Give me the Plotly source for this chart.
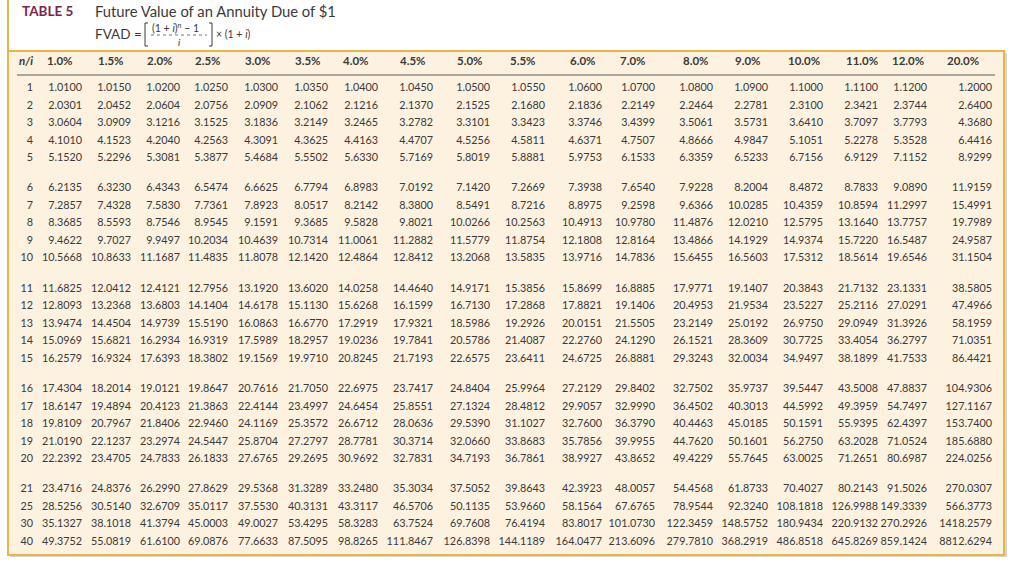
import plotly.graph_objects as go

# ---------------- data ----------------
n_periods = [1, 2, 3, 4, 5, 6, 7, 8, 9, 10, 11, 12, 13, 14, 15, 16, 17, 18, 19, 20, 21, 25, 30, 40]
rate_labels = ["1.0%", "1.5%", "2.0%", "2.5%", "3.0%", "3.5%", "4.0%", "4.5%", "5.0%",
               "5.5%", "6.0%", "7.0%", "8.0%", "9.0%", "10.0%", "11.0%", "12.0%", "20.0%"]

fvad_1_0 = [1.0100, 2.0301, 3.0604, 4.1010, 5.1520, 6.2135, 7.2857, 8.3685, 9.4622, 10.5668, 11.6825, 12.8093, 13.9474, 15.0969, 16.2579, 17.4304, 18.6147, 19.8109, 21.0190, 22.2392, 23.4716, 28.5256, 35.1327, 49.3752]
fvad_1_5 = [1.0150, 2.0452, 3.0909, 4.1523, 5.2296, 6.3230, 7.4328, 8.5593, 9.7027, 10.8633, 12.0412, 13.2368, 14.4504, 15.6821, 16.9324, 18.2014, 19.4894, 20.7967, 22.1237, 23.4705, 24.8376, 30.5140, 38.1018, 55.0819]
fvad_2_0 = [1.0200, 2.0604, 3.1216, 4.2040, 5.3081, 6.4343, 7.5830, 8.7546, 9.9497, 11.1687, 12.4121, 13.6803, 14.9739, 16.2934, 17.6393, 19.0121, 20.4123, 21.8406, 23.2974, 24.7833, 26.2990, 32.6709, 41.3794, 61.6100]
fvad_2_5 = [1.0250, 2.0756, 3.1525, 4.2563, 5.3877, 6.5474, 7.7361, 8.9545, 10.2034, 11.4835, 12.7956, 14.1404, 15.5190, 16.9319, 18.3802, 19.8647, 21.3863, 22.9460, 24.5447, 26.1833, 27.8629, 35.0117, 45.0003, 69.0876]
fvad_3_0 = [1.0300, 2.0909, 3.1836, 4.3091, 5.4684, 6.6625, 7.8923, 9.1591, 10.4639, 11.8078, 13.1920, 14.6178, 16.0863, 17.5989, 19.1569, 20.7616, 22.4144, 24.1169, 25.8704, 27.6765, 29.5368, 37.5530, 49.0027, 77.6633]
fvad_3_5 = [1.0350, 2.1062, 3.2149, 4.3625, 5.5502, 6.7794, 8.0517, 9.3685, 10.7314, 12.1420, 13.6020, 15.1130, 16.6770, 18.2957, 19.9710, 21.7050, 23.4997, 25.3572, 27.2797, 29.2695, 31.3289, 40.3131, 53.4295, 87.5095]
fvad_4_0 = [1.0400, 2.1216, 3.2465, 4.4163, 5.6330, 6.8983, 8.2142, 9.5828, 11.0061, 12.4864, 14.0258, 15.6268, 17.2919, 19.0236, 20.8245, 22.6975, 24.6454, 26.6712, 28.7781, 30.9692, 33.2480, 43.3117, 58.3283, 98.8265]
fvad_4_5 = [1.0450, 2.1370, 3.2782, 4.4707, 5.7169, 7.0192, 8.3800, 9.8021, 11.2882, 12.8412, 14.4640, 16.1599, 17.9321, 19.7841, 21.7193, 23.7417, 25.8551, 28.0636, 30.3714, 32.7831, 35.3034, 46.5706, 63.7524, 111.8467]
fvad_5_0 = [1.0500, 2.1525, 3.3101, 4.5256, 5.8019, 7.1420, 8.5491, 10.0266, 11.5779, 13.2068, 14.9171, 16.7130, 18.5986, 20.5786, 22.6575, 24.8404, 27.1324, 29.5390, 32.0660, 34.7193, 37.5052, 50.1135, 69.7608, 126.8398]
fvad_5_5 = [1.0550, 2.1680, 3.3423, 4.5811, 5.8881, 7.2669, 8.7216, 10.2563, 11.8754, 13.5835, 15.3856, 17.2868, 19.2926, 21.4087, 23.6411, 25.9964, 28.4812, 31.1027, 33.8683, 36.7861, 39.8643, 53.9660, 76.4194, 144.1189]
fvad_6_0 = [1.0600, 2.1836, 3.3746, 4.6371, 5.9753, 7.3938, 8.8975, 10.4913, 12.1808, 13.9716, 15.8699, 17.8821, 20.0151, 22.2760, 24.6725, 27.2129, 29.9057, 32.7600, 35.7856, 38.9927, 42.3923, 58.1564, 83.8017, 164.0477]
fvad_7_0 = [1.0700, 2.2149, 3.4399, 4.7507, 6.1533, 7.6540, 9.2598, 10.9780, 12.8164, 14.7836, 16.8885, 19.1406, 21.5505, 24.1290, 26.8881, 29.8402, 32.9990, 36.3790, 39.9955, 43.8652, 48.0057, 67.6765, 101.0730, 213.6096]
fvad_8_0 = [1.0800, 2.2464, 3.5061, 4.8666, 6.3359, 7.9228, 9.6366, 11.4876, 13.4866, 15.6455, 17.9771, 20.4953, 23.2149, 26.1521, 29.3243, 32.7502, 36.4502, 40.4463, 44.7620, 49.4229, 54.4568, 78.9544, 122.3459, 279.7810]
fvad_9_0 = [1.0900, 2.2781, 3.5731, 4.9847, 6.5233, 8.2004, 10.0285, 12.0210, 14.1929, 16.5603, 19.1407, 21.9534, 25.0192, 28.3609, 32.0034, 35.9737, 40.3013, 45.0185, 50.1601, 55.7645, 61.8733, 92.3240, 148.5752, 368.2919]
fvad_10_0 = [1.1000, 2.3100, 3.6410, 5.1051, 6.7156, 8.4872, 10.4359, 12.5795, 14.9374, 17.5312, 20.3843, 23.5227, 26.9750, 30.7725, 34.9497, 39.5447, 44.5992, 50.1591, 56.2750, 63.0025, 70.4027, 108.1818, 180.9434, 486.8518]
fvad_11_0 = [1.1100, 2.3421, 3.7097, 5.2278, 6.9129, 8.7833, 10.8594, 13.1640, 15.7220, 18.5614, 21.7132, 25.2116, 29.0949, 33.4054, 38.1899, 43.5008, 49.3959, 55.9395, 63.2028, 71.2651, 80.2143, 126.9988, 220.9132, 645.8269]
fvad_12_0 = [1.1200, 2.3744, 3.7793, 5.3528, 7.1152, 9.0890, 11.2997, 13.7757, 16.5487, 19.6546, 23.1331, 27.0291, 31.3926, 36.2797, 41.7533, 47.8837, 54.7497, 62.4397, 71.0524, 80.6987, 91.5026, 149.3339, 270.2926, 859.1424]
fvad_20_0 = [1.2000, 2.6400, 4.3680, 6.4416, 8.9299, 11.9159, 15.4991, 19.7989, 24.9587, 31.1504, 38.5805, 47.4966, 58.1959, 71.0351, 86.4421, 104.9306, 127.1167, 153.7400, 185.6880, 224.0256, 270.0307, 566.3773, 1418.2579, 8812.6294]

columns = [fvad_1_0, fvad_1_5, fvad_2_0, fvad_2_5, fvad_3_0, fvad_3_5, fvad_4_0, fvad_4_5, fvad_5_0,
           fvad_5_5, fvad_6_0, fvad_7_0, fvad_8_0, fvad_9_0, fvad_10_0, fvad_11_0, fvad_12_0, fvad_20_0]

# ---------------- layout (pixel coordinates) ----------------
W, H = 1024, 583
col_right = [82, 131, 180, 228, 278, 328, 378, 433, 490, 545, 602, 655, 713, 768, 823, 878, 927, 992]
header_left = [47, 98, 147, 195, 245, 295, 343, 400, 457, 510, 570, 620, 683, 735, 788, 846, 892, 947]
n_right = 33
header_y = 62
group_top, row_step, group_step = 88.5, 17.5, 100.3

def row_y(i):
    return group_top + (i // 5) * group_step + (i % 5) * row_step

ys = [row_y(i) for i in range(len(n_periods))]

TXT = "#3a3a3a"
FONT = "Lato"
FS = 10.8
CREAM = "#FDF1DF"
GOLD = "#E6B54C"

fig = go.Figure()

# n column
fig.add_trace(go.Scatter(
    x=[n_right] * len(n_periods), y=ys, mode="text",
    text=[str(n) for n in n_periods], textposition="middle left",
    textfont=dict(family=FONT, size=FS, color=TXT),
    hoverinfo="skip", showlegend=False, cliponaxis=False))

# value columns
for j, vals in enumerate(columns):
    fig.add_trace(go.Scatter(
        x=[col_right[j]] * len(vals), y=ys, mode="text",
        text=[f"{v:.4f}" for v in vals], textposition="middle left",
        textfont=dict(family=FONT, size=FS, color=TXT),
        hoverinfo="skip", showlegend=False, cliponaxis=False))

# headers
fig.add_trace(go.Scatter(
    x=header_left, y=[header_y] * len(rate_labels), mode="text",
    text=[f"<b>{r}</b>" for r in rate_labels], textposition="middle right",
    textfont=dict(family=FONT, size=11.5, color=TXT),
    hoverinfo="skip", showlegend=False, cliponaxis=False))
fig.add_trace(go.Scatter(
    x=[19], y=[header_y], mode="text",
    text=["<b><i>n/i</i></b>"], textposition="middle right",
    textfont=dict(family=FONT, size=11.5, color=TXT),
    hoverinfo="skip", showlegend=False, cliponaxis=False))

shapes = [
    # shadow
    dict(type="rect", x0=10, x1=1007, y0=53, y1=557, line=dict(width=0), fillcolor="#d9d4cc", layer="below"),
    # cream panel
    dict(type="rect", x0=8, x1=1004, y0=51, y1=555, line=dict(color=GOLD, width=2), fillcolor=CREAM, layer="below"),
    # title left rule
    dict(type="line", x0=8, x1=8, y0=0, y1=51, line=dict(color=GOLD, width=2)),
    # header underline
    dict(type="line", x0=17, x1=995, y0=75, y1=75, line=dict(color="#5a5a5a", width=1)),
    # formula brackets
    dict(type="path", path="M 148,23 L 145,23 L 145,46 L 148,46", line=dict(color=TXT, width=1)),
    dict(type="path", path="M 209,23 L 212,23 L 212,46 L 209,46", line=dict(color=TXT, width=1)),
    # fraction bar
    dict(type="line", x0=151, x1=207, y0=35, y1=35, line=dict(color=TXT, width=0.7, dash="dot")),
]

annotations = [
    dict(x=20, y=11, text="<b>TABLE 5</b>", font=dict(family=FONT, size=13.5, color="#7A2550")),
    dict(x=93, y=11, text="Future Value of an Annuity Due of $1", font=dict(family=FONT, size=14.8, color=TXT)),
    dict(x=93, y=34, text="FVAD =", font=dict(family=FONT, size=13.5, color=TXT)),
    dict(x=150, y=27, text="(1 + <i>i</i>)<sup><i>n</i></sup> − 1", font=dict(family=FONT, size=10.5, color=TXT)),
    dict(x=176, y=42, text="<i>i</i>", font=dict(family=FONT, size=10, color=TXT)),
    dict(x=214, y=34, text="× (1 + <i>i</i>)", font=dict(family=FONT, size=10.5, color=TXT)),
]
for a in annotations:
    a.update(xref="x", yref="y", xanchor="left", yanchor="middle", showarrow=False)

fig.update_layout(
    width=W, height=H,
    margin=dict(l=0, r=0, t=0, b=0),
    paper_bgcolor="white", plot_bgcolor="white",
    xaxis=dict(range=[0, W], visible=False, fixedrange=True),
    yaxis=dict(range=[H, 0], visible=False, fixedrange=True),
    shapes=shapes, annotations=annotations,
    showlegend=False,
)

fig.write_html(
    "out.html",
    config={"displayModeBar": False},
    post_script="document.body.style.margin='0';document.body.style.padding='0';document.body.style.overflow='hidden';",
)
